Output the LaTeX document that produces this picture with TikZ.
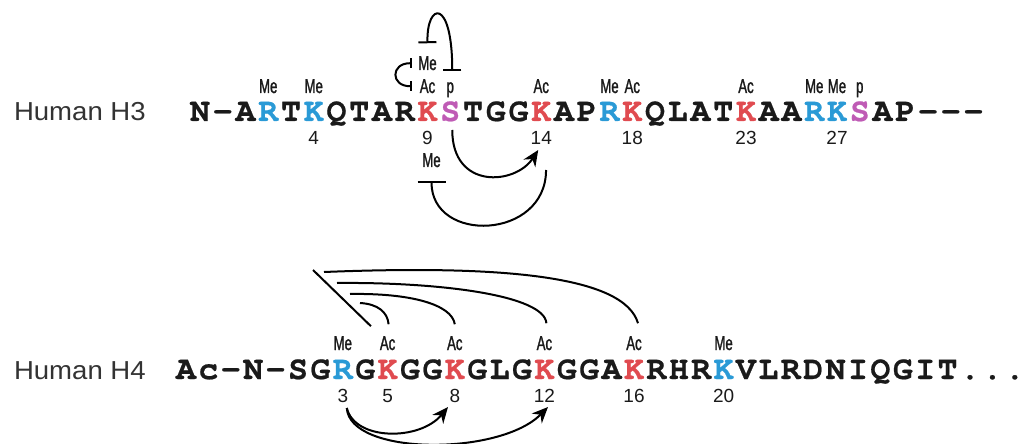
\documentclass[tikz,border=0pt]{standalone}
\usepackage{fontspec}
\setmainfont{Liberation Sans}
\newfontfamily\seqfont{texgyrecursor}[Extension=.otf, UprightFont=*-regular, BoldFont=*-bold, FakeBold=0.6]
\newfontfamily\modfont{Liberation Sans}[FakeStretch=0.66, FakeBold=1.3]
\newfontfamily\histfont{Liberation Sans}[FakeStretch=1.06]
\usetikzlibrary{calc,arrows.meta}
\definecolor{resInk}{HTML}{1A1A1A}
\definecolor{resBlue}{HTML}{2A9AD6}
\definecolor{resRed}{HTML}{E04B50}
\definecolor{resPink}{HTML}{BF5BB5}
\definecolor{histInk}{HTML}{333333}

\begin{document}
\begin{tikzpicture}[
    x=0.5pt, y=-0.5pt,
    >=Stealth,
    line width=1pt,
    every node/.style={inner sep=0pt},
    res/.style={anchor=base, font=\seqfont\bfseries\fontsize{16.5}{18}\selectfont},
    mod/.style={anchor=base, text=resInk, font=\modfont\fontsize{10}{11}\selectfont},
    num/.style={anchor=base, text=resInk, font=\fontsize{9.5}{11}\selectfont},
    histone/.style={anchor=base west, text=histInk, font=\histfont\fontsize{13}{15}\selectfont},
    act/.style={-{Stealth[length=8pt,width=7pt]}},
    block/.style={{Bar[width=#1]}-{Bar[width=#1]}},
  ]
  \useasboundingbox (0,0) rectangle (1034,444);

  % Human H3
  \node[histone] (h3-name) at (13,121) {Human H3};
  \foreach \ch/\col [count=\i] in {N/resInk,-/resInk,A/resInk,R/resBlue,T/resInk,K/resBlue,
      Q/resInk,T/resInk,A/resInk,R/resInk,K/resRed,S/resPink,T/resInk,G/resInk,G/resInk,
      K/resRed,A/resInk,P/resInk,R/resBlue,K/resRed,Q/resInk,L/resInk,A/resInk,T/resInk,
      K/resRed,A/resInk,A/resInk,R/resBlue,K/resBlue,S/resPink,A/resInk,P/resInk,
      -/resInk,-/resInk,-/resInk}
    \node[res,text=\col] (h3-\i) at ({200+(\i-1)*22.75},121) {\ch};
  \foreach \j/\t in {4/Me,6/Me,11/Ac,12/p,16/Ac,19/Me,20/Ac,25/Ac,28/Me,29/Me,30/p}
    \node[mod] (h3-mod-\j) at ([yshift=14pt]h3-\j.base) {\t};
  \foreach \j/\n in {6/4,11/9,16/14,20/18,25/23,29/27}
    \node[num] (h3-num-\j) at ([yshift=-12pt]h3-\j.base) {\n};
  \node[mod] (h3-me9) at ([yshift=11.5pt]h3-mod-11.base) {Me};
  \node[mod] (h3-me9b) at ([xshift=2pt,yshift=-11pt]h3-num-11.base) {Me};

  % cross-talk around K9 / S10
  \draw[block=5pt] ([xshift=-8pt]h3-me9.center) .. controls +(-21,0) and +(-21,0) .. ([xshift=-8pt]h3-mod-11.center);
  \draw[block=9pt] ([yshift=6pt]h3-me9.north) .. controls +(-1,-41) and +(0,-74) .. ([xshift=1pt,yshift=5pt]h3-mod-12.north);
  \draw[act] ([xshift=1pt,yshift=-4.5pt]h3-12.base) .. controls +(0,60) and +(-23,35) .. ([shift={(-1.5pt,-2.5pt)}]h3-num-16.base);
  \draw[-{Bar[width=14pt]}] ([shift={(2.4pt,-12.5pt)}]h3-num-16.base) .. controls +(0,70) and +(0,63) .. ([yshift=-7pt]h3-me9b.base);

  % Human H4
  \node[histone] (h4-name) at (13,379) {Human H4};
  \foreach \ch/\col [count=\i] in {A/resInk,c/resInk,-/resInk,N/resInk,-/resInk,S/resInk,
      G/resInk,R/resBlue,G/resInk,K/resRed,G/resInk,G/resInk,K/resRed,G/resInk,L/resInk,
      G/resInk,K/resRed,G/resInk,G/resInk,A/resInk,K/resRed,R/resInk,H/resInk,R/resInk,
      K/resBlue,V/resInk,L/resInk,R/resInk,D/resInk,N/resInk,I/resInk,Q/resInk,G/resInk,
      I/resInk,T/resInk,./resInk,./resInk,./resInk}
    \node[res,text=\col] (h4-\i) at ({186+(\i-1)*22.4},379) {\ch};
  \foreach \j/\t in {8/Me,10/Ac,13/Ac,17/Ac,21/Ac,25/Me}
    \node[mod] (h4-mod-\j) at ([yshift=14.5pt]h4-\j.base) {\t};
  \foreach \j/\n in {8/3,10/5,13/8,17/12,21/16,25/20}
    \node[num] (h4-num-\j) at ([yshift=-11.5pt]h4-\j.base) {\n};

  % R3 fan
  \coordinate (h4-hub) at (313,270);
  \draw (h4-hub) -- ([shift={(9pt,4.5pt)}]h4-mod-8.north east);
  \draw ($(h4-hub)+(11,2)$) .. controls +(176,-7) and +(-14,-48) .. ([xshift=2pt,yshift=6pt]h4-mod-21.north);
  \draw ($(h4-hub)+(24,13)$) .. controls +(103,-1) and +(-2,-28) .. ([xshift=1pt,yshift=6pt]h4-mod-17.north);
  \draw ($(h4-hub)+(37,24)$) .. controls +(60,-1) and +(-3,-20) .. ([yshift=5.5pt]h4-mod-13.north);
  \draw ($(h4-hub)+(47,33)$) .. controls +(18,1) and +(-1,-12) .. ([xshift=0.5pt,yshift=5.5pt]h4-mod-10.north);
  \draw[act] ([shift={(2pt,-3pt)}]h4-num-8.base) .. controls +(8,33) and +(-28,34) .. ([shift={(-3.4pt,-2.5pt)}]h4-num-13.base);
  \draw[act] ([shift={(2pt,-3pt)}]h4-num-8.base) .. controls +(3,48) and +(-48,49) .. ([shift={(1.8pt,-2.5pt)}]h4-num-17.base);
\end{tikzpicture}
\end{document}
